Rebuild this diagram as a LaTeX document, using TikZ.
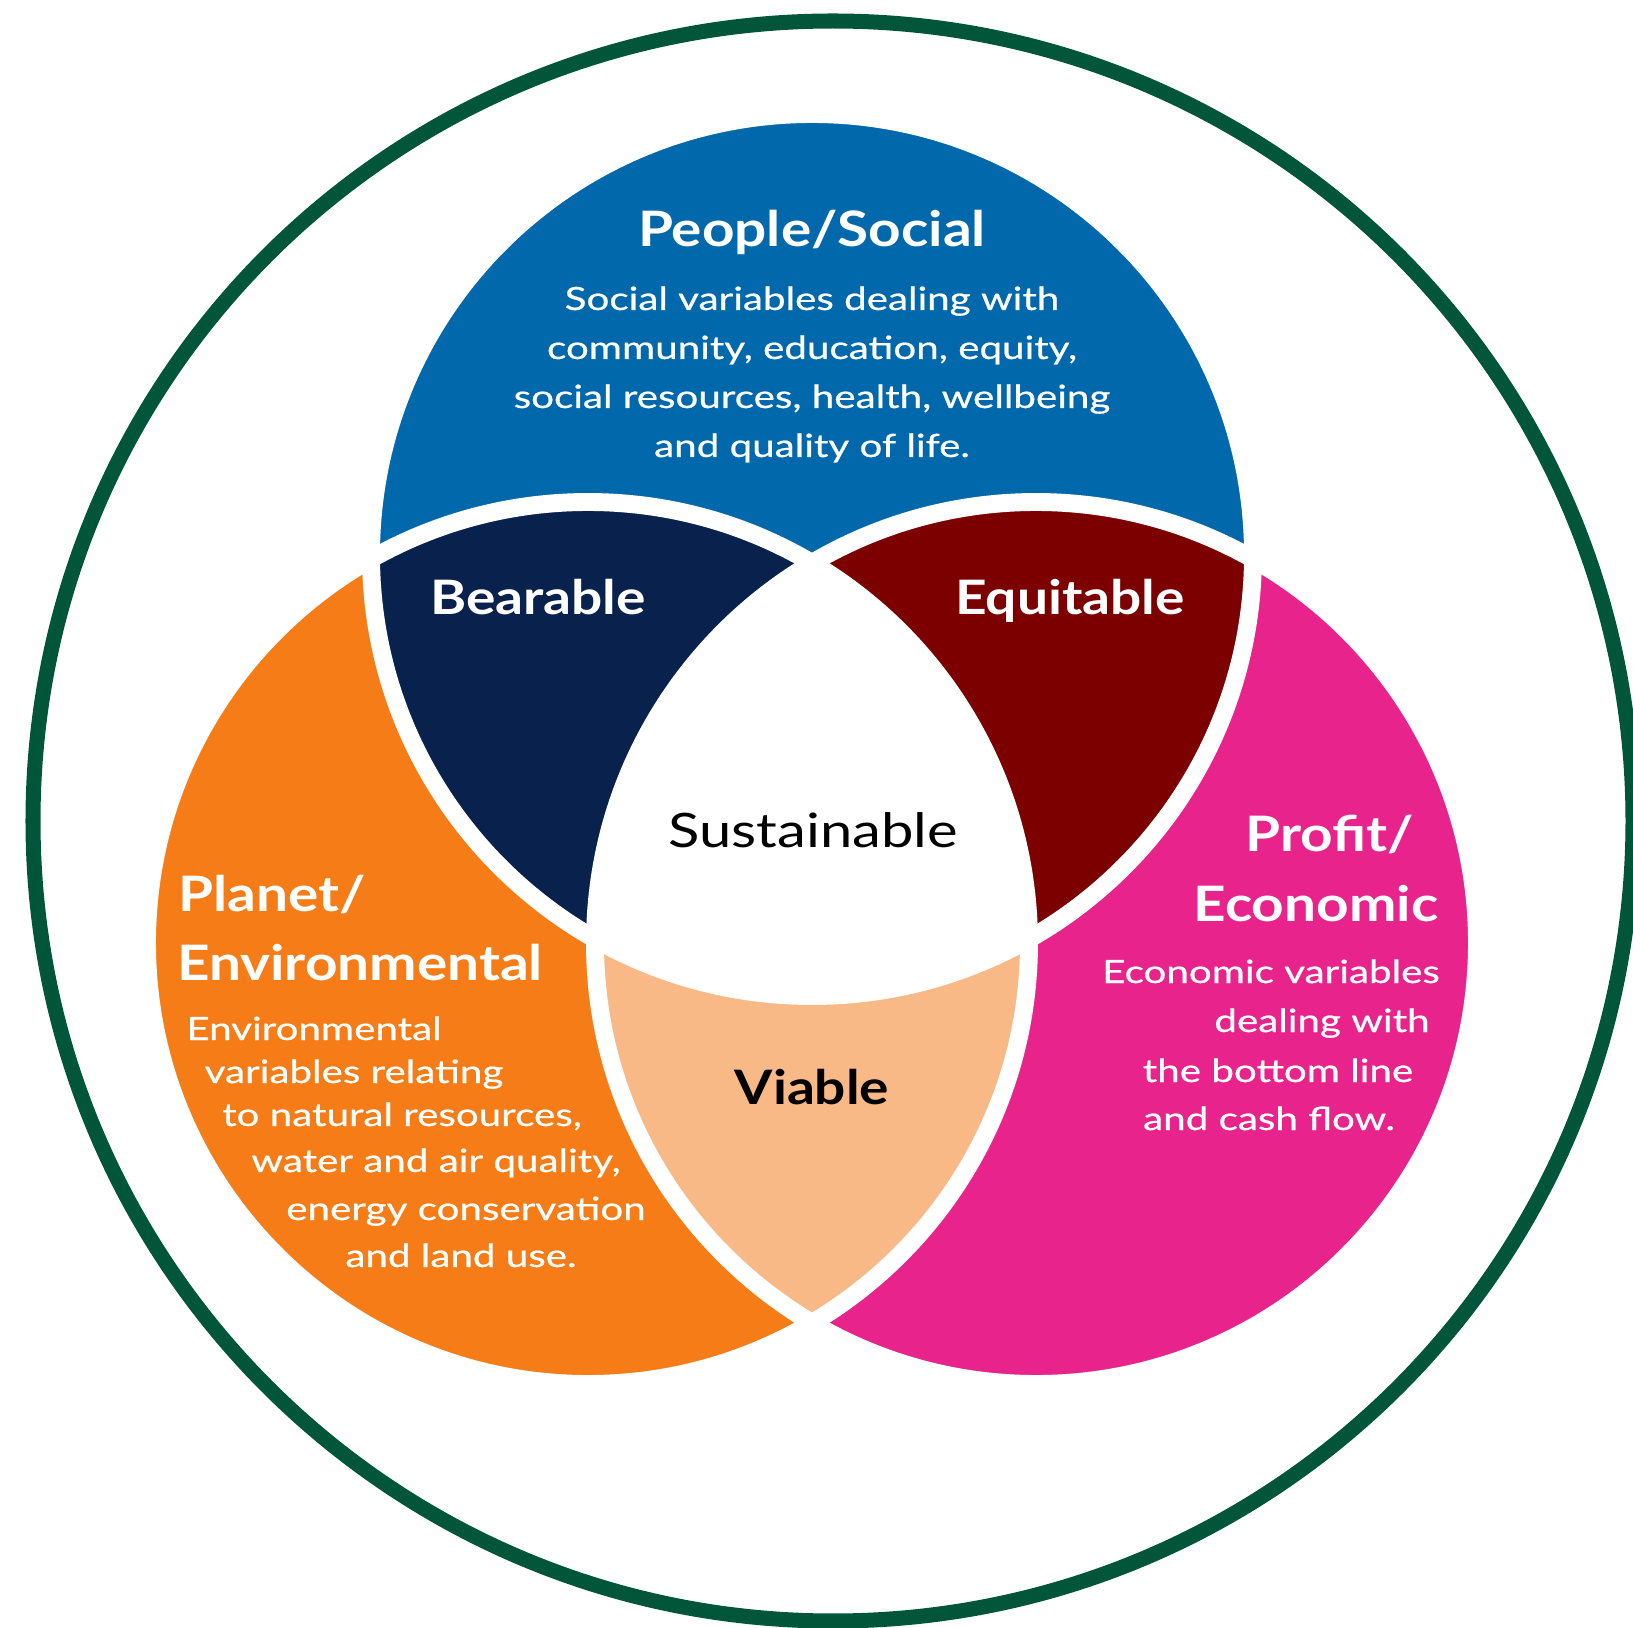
\documentclass[tikz,border=0pt]{standalone}
\usepackage{fontspec}
\setmainfont{Lato}
\newfontfamily\headfont[FakeStretch=1.16]{Lato}
\newfontfamily\detailfont[FakeStretch=1.26, FakeBold=0.6]{Lato}
\newfontfamily\centrefont[FakeStretch=1.22]{Lato}
\usepackage{xcolor}
\usepackage{tikz}

\definecolor{peopleblue}{RGB}{0,104,171}
\definecolor{planetorange}{RGB}{245,124,22}
\definecolor{profitpink}{RGB}{232,36,140}
\definecolor{bearnavy}{RGB}{8,33,77}
\definecolor{equitred}{RGB}{124,0,0}
\definecolor{viablepeach}{RGB}{249,185,135}
\definecolor{ringgreen}{RGB}{1,86,58}

\begin{document}
\begin{tikzpicture}[x=0.01cm, y=-0.01cm]
    \tikzstyle{heading} = [font=\headfont\fontsize{13.9}{16}\selectfont\bfseries, text=white, anchor=base, inner sep=0pt]
    \tikzstyle{detail} = [font=\detailfont\fontsize{9.1}{11}\selectfont, text=white, anchor=base, inner sep=0pt]
    \tikzstyle{overlap} = [font=\headfont\fontsize{13.5}{16}\selectfont\bfseries, anchor=base, inner sep=0pt]
    \tikzstyle{gap} = [white, line width=5.1pt]

    \useasboundingbox (0,0) rectangle (1633,1628);

    % Outer ring
    \draw[ringgreen, line width=4.27pt] (833,821) circle (800);

    % Circle centres
    \coordinate (people) at (812,555);
    \coordinate (planet) at (588,943);
    \coordinate (profit) at (1036,943);

    % Single circles
    \fill[peopleblue] (people) circle (441);
    \fill[planetorange] (planet) circle (441);
    \fill[profitpink] (profit) circle (441);

    % Overlaps
    \begin{scope}
        \clip (planet) circle (441);
        \fill[viablepeach] (profit) circle (441);
    \end{scope}
    \begin{scope}
        \clip (people) circle (441);
        \fill[bearnavy] (planet) circle (441);
        \fill[equitred] (profit) circle (441);
        \clip (planet) circle (441);
        \fill[white] (profit) circle (441);
    \end{scope}

    % White borders
    \foreach \c in {people,planet,profit}
        \draw[gap] (\c) circle (441);

    % People
    \node[heading] (peoplehead) at (812,247) {People/Social};
    \foreach \txt [count=\i] in {Social variables dealing with, {community, education, equity,}, {social resources, health, wellbeing}, and quality of life.}
        \node[detail] (peopleline\i) at (812,261+49*\i) {\txt};

    % Planet
    \node[heading] (planethead1) at (272,912) {Planet/};
    \node[heading] (planethead2) at (360,980) {Environmental};
    \foreach \px/\py/\txt [count=\i] in {314/1040/Environmental, 354/1083/variables relating, 402/1126/{to natural resources,}, 436/1172/{water and air quality,}, 466/1220/energy conservation, 461/1267/and land use.}
        \node[detail] (planetline\i) at (\px,\py) {\txt};

    % Profit
    \node[heading] (profithead1) at (1330,852) {Profit/};
    \node[heading] (profithead2) at (1316,922) {Economic};
    \foreach \px/\py/\txt [count=\i] in {1271/983/Economic variables, 1322/1032/dealing with, 1278/1082/the bottom line, 1269/1130/and cash flow.}
        \node[detail] (profitline\i) at (\px,\py) {\txt};

    % Overlap labels
    \node[overlap, text=white] (bearable) at (538,615) {Bearable};
    \node[overlap, text=white] (equitable) at (1070,615) {Equitable};
    \node[overlap, font=\centrefont\fontsize{13.5}{16}\selectfont] (sustainable) at (813,847) {Sustainable};
    \node[overlap, text=black] (viable) at (812,1104) {Viable};
\end{tikzpicture}
\end{document}
